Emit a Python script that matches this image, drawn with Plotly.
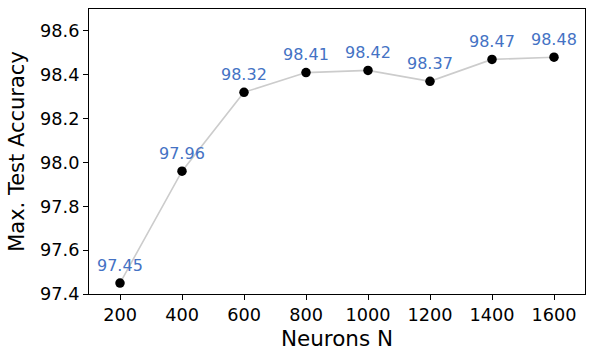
import plotly.graph_objects as go

neurons = [200, 400, 600, 800, 1000, 1200, 1400, 1600]
accuracy = [97.45, 97.96, 98.32, 98.41, 98.42, 98.37, 98.47, 98.48]
x_ticks = [200, 400, 600, 800, 1000, 1200, 1400, 1600]
y_ticks = [97.4, 97.6, 97.8, 98.0, 98.2, 98.4, 98.6]

font = "DejaVu Sans"

fig = go.Figure()
fig.add_trace(go.Scatter(x=neurons, y=accuracy, mode="lines",
                         line=dict(color="#cccccc", width=1.6),
                         showlegend=False, hoverinfo="skip"))
fig.add_trace(go.Scatter(x=neurons, y=accuracy, mode="markers",
                         marker=dict(color="black", size=9.5),
                         showlegend=False))

# value labels above each point
for n, acc in zip(neurons, accuracy):
    fig.add_annotation(x=n, y=acc, text=f"{acc:.2f}", showarrow=False,
                       yshift=18, font=dict(family=font, size=16, color="#4472c4"))

axis_style = dict(showgrid=False, zeroline=False, showline=True, mirror=True,
                  linecolor="black", linewidth=1, ticks="outside", ticklen=5,
                  tickcolor="black", automargin=False,
                  tickfont=dict(family=font, size=17.7, color="black"))

fig.update_xaxes(range=[100, 1700], tickvals=x_ticks, ticktext=[str(v) for v in x_ticks],
                 title=dict(text="Neurons N", font=dict(family=font, size=21.5, color="black"),
                            standoff=6),
                 **axis_style)
fig.update_yaxes(range=[97.4, 98.7], tickvals=y_ticks, ticktext=[f"{v:.1f}" for v in y_ticks],
                 title=dict(text="Max. Test Accuracy", font=dict(family=font, size=21, color="black"),
                            standoff=9),
                 **axis_style)

fig.update_layout(width=594, height=358, margin=dict(l=89, r=9, t=9, b=64),
                  plot_bgcolor="white", paper_bgcolor="white")

# drop the browser's default page margin so the figure sits at the window corner
fig.write_html("out.html", config={"displayModeBar": False},
               post_script="document.body.style.margin='0';")
